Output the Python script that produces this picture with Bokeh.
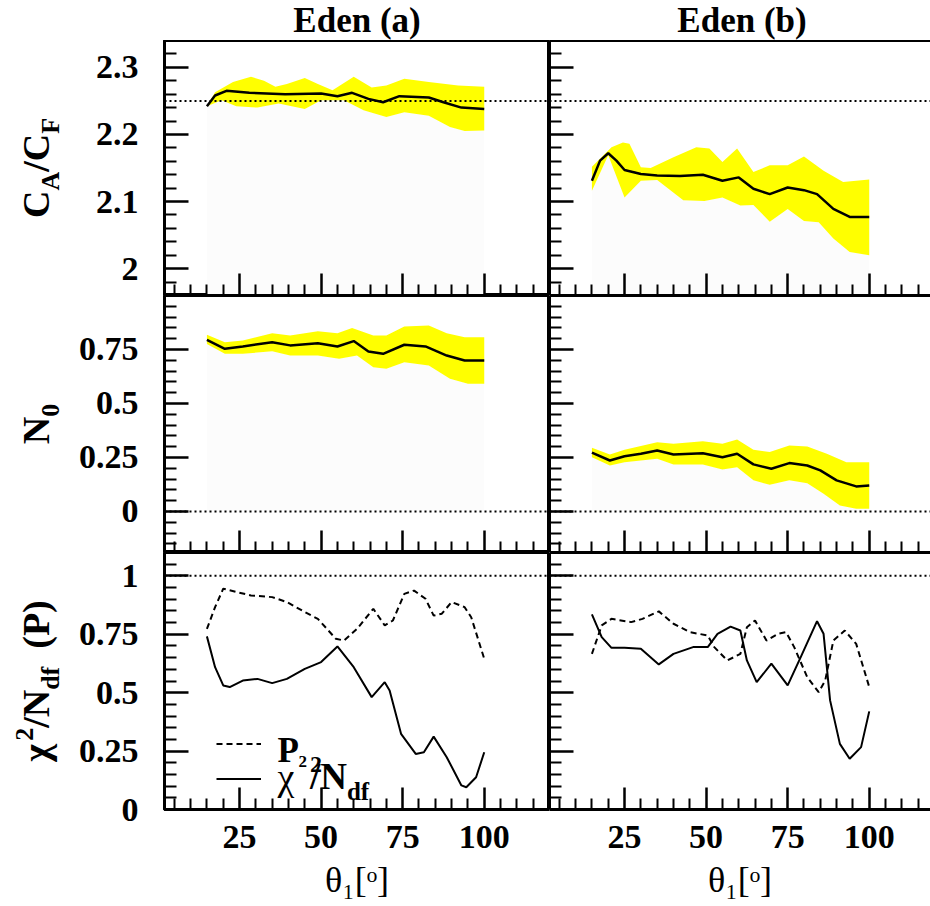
import math
from bokeh.plotting import figure
from bokeh.layouts import row, column
from bokeh.models import (FixedTicker, Span, Label, Legend, LegendItem,
                          LinearAxis, Range1d)
from bokeh.core.properties import value
from bokeh.embed import file_html
from bokeh.resources import INLINE

# ---------------------------------------------------------------- data
col_titles = ["Eden (a)", "Eden (b)"]
x_title = "θ₁[ᵒ]"

theta_ticks = [25, 50, 75, 100]
theta_tick_labels = ["25", "50", "75", "100"]
theta_minor = [5, 10, 15, 20, 30, 35, 40, 45, 55, 60, 65, 70, 80, 85, 90, 95,
               105, 110, 115]

cf_ticks = [2.0, 2.1, 2.2, 2.3]
cf_tick_labels = ["2", "2.1", "2.2", "2.3"]
cf_minor = [1.96, 1.98, 2.02, 2.04, 2.06, 2.08, 2.12, 2.14, 2.16, 2.18,
            2.22, 2.24, 2.26, 2.28, 2.32, 2.34]
cf_ref = 2.25

n0_ticks = [0, 0.25, 0.5, 0.75]
n0_tick_labels = ["0", "0.25", "0.5", "0.75"]
n0_minor = [-0.15, -0.1, -0.05, 0.05, 0.1, 0.15, 0.2, 0.3, 0.35, 0.4, 0.45,
            0.55, 0.6, 0.65, 0.7, 0.8, 0.85, 0.9, 0.95]
n0_ref = 0.0

chi_ticks = [0, 0.25, 0.5, 0.75, 1.0]
chi_tick_labels = ["0", "0.25", "0.5", "0.75", "1"]
chi_minor = [0.05, 0.1, 0.15, 0.2, 0.3, 0.35, 0.4, 0.45, 0.55, 0.6, 0.65,
             0.7, 0.8, 0.85, 0.9, 0.95, 1.05]
chi_ref = 1.0

# C_A/C_F, Eden (a)
cf_a_x = [15, 17.5, 21, 28, 39, 50, 55, 59.5, 64.5, 69, 74, 83, 87.5, 93, 100]
cf_a = [2.242, 2.258, 2.265, 2.262, 2.260, 2.261, 2.257, 2.262, 2.253, 2.248,
        2.257, 2.255, 2.248, 2.240, 2.238]
cf_a_up_x = [15, 17.5, 23, 28.5, 32.5, 36, 39.5, 45, 49, 53.5, 60, 65.5, 70,
             75.5, 83, 92, 100]
cf_a_up = [2.242, 2.263, 2.278, 2.286, 2.280, 2.271, 2.275, 2.284, 2.275,
           2.266, 2.286, 2.270, 2.273, 2.283, 2.278, 2.273, 2.271]
cf_a_lo_x = [15, 19.5, 24, 30.5, 37, 45, 50, 57, 63, 70, 75.5, 83, 89.5, 94, 100]
cf_a_lo = [2.242, 2.251, 2.242, 2.240, 2.246, 2.238, 2.251, 2.251, 2.236,
           2.226, 2.233, 2.228, 2.211, 2.205, 2.206]

# C_A/C_F, Eden (b)
cf_b_x = [15, 17.5, 20, 22.5, 25, 30, 35, 42, 49, 55, 60, 64.5, 69.5, 75, 80,
          84, 89, 94, 100]
cf_b = [2.131, 2.161, 2.172, 2.161, 2.147, 2.141, 2.139, 2.138, 2.140, 2.131,
        2.136, 2.119, 2.111, 2.121, 2.117, 2.111, 2.089, 2.077, 2.077]
cf_b_up_x = [15, 21, 24.5, 26.5, 30, 33, 40, 47, 51, 55, 59.5, 64.5, 69.5, 75,
             80, 86, 92, 100]
cf_b_up = [2.152, 2.181, 2.188, 2.186, 2.151, 2.150, 2.166, 2.181, 2.179,
           2.159, 2.179, 2.144, 2.154, 2.154, 2.167, 2.146, 2.129, 2.133]
cf_b_lo_x = [15, 20, 25, 30, 35, 43, 49.5, 55, 60.5, 64.5, 69.5, 75, 80, 84.5,
             89, 94, 100]
cf_b_lo = [2.116, 2.169, 2.106, 2.131, 2.132, 2.102, 2.101, 2.106, 2.094,
           2.095, 2.070, 2.089, 2.071, 2.069, 2.045, 2.025, 2.020]

# N0, Eden (a)
n0_a_x = [15, 20.5, 26, 35, 40.5, 49, 55, 60, 64.5, 69, 75.5, 82, 88.5, 94, 100]
n0_a = [0.795, 0.753, 0.764, 0.784, 0.769, 0.779, 0.764, 0.789, 0.741, 0.730,
        0.772, 0.764, 0.722, 0.699, 0.699]
n0_a_up_x = [15, 20.5, 26, 35, 40.5, 49, 55, 59.5, 66, 70, 75.5, 83, 88.5, 94, 100]
n0_a_up = [0.818, 0.784, 0.792, 0.825, 0.815, 0.835, 0.825, 0.850, 0.815,
           0.815, 0.856, 0.861, 0.825, 0.807, 0.807]
n0_a_lo_x = [15, 20.5, 26, 35, 40.5, 49, 55.5, 61, 66, 70, 75.5, 83, 89.5, 95, 100]
n0_a_lo = [0.776, 0.730, 0.730, 0.742, 0.722, 0.722, 0.707, 0.722, 0.668,
           0.661, 0.691, 0.676, 0.614, 0.591, 0.591]

# N0, Eden (b)
n0_b_x = [15, 20.5, 25, 30, 35, 40, 49, 55, 59.5, 64.5, 70, 75.5, 81, 85, 90,
          96, 100]
n0_b = [0.272, 0.236, 0.256, 0.267, 0.282, 0.264, 0.270, 0.251, 0.267, 0.218,
        0.198, 0.224, 0.213, 0.190, 0.144, 0.116, 0.120]
n0_b_up_x = [15, 20.5, 25, 35, 40, 49, 55, 59.5, 64.5, 69.5, 75.5, 81, 87, 93, 100]
n0_b_up = [0.295, 0.264, 0.286, 0.321, 0.313, 0.325, 0.313, 0.333, 0.286,
           0.275, 0.306, 0.301, 0.267, 0.228, 0.228]
n0_b_lo_x = [15, 20.5, 25, 35, 40, 49, 55, 59.5, 64.5, 69.5, 75.5, 81, 86, 91,
             96, 100]
n0_b_lo = [0.251, 0.213, 0.228, 0.244, 0.218, 0.218, 0.194, 0.205, 0.144,
           0.124, 0.144, 0.131, 0.082, 0.028, 0.012, 0.013]

# P2 and chi2/Ndf, Eden (a)
p2_a_x = [15, 17.5, 20, 28.5, 35, 39.5, 45, 49, 54.5, 57, 61, 66, 69.5, 72,
          75.5, 78.5, 82, 84.5, 87, 90, 94, 96, 100]
p2_a = [0.773, 0.866, 0.945, 0.916, 0.909, 0.888, 0.845, 0.816, 0.731, 0.723,
        0.773, 0.859, 0.788, 0.809, 0.923, 0.937, 0.902, 0.830, 0.838, 0.888,
        0.866, 0.823, 0.645]
chi_a_x = [15, 17.5, 20, 22, 26, 30.5, 35, 39.5, 45, 50, 55, 60, 65.5, 69.5,
           71, 74.5, 79, 81.5, 84.5, 88.5, 93, 94.5, 97.5, 100]
chi_a = [0.741, 0.609, 0.531, 0.524, 0.552, 0.559, 0.541, 0.559, 0.602, 0.631,
         0.698, 0.609, 0.481, 0.545, 0.509, 0.324, 0.238, 0.245, 0.312, 0.224,
         0.103, 0.095, 0.138, 0.245]

# P2 and chi2/Ndf, Eden (b)
p2_b_x = [15, 18, 21, 27, 30.5, 35.5, 40, 45, 50.5, 52.5, 56.5, 60.5, 62.5,
          65, 68.5, 72, 74.5, 77, 81, 84.5, 86.5, 89, 92.5, 96, 100]
p2_b = [0.666, 0.788, 0.816, 0.802, 0.816, 0.848, 0.795, 0.759, 0.745, 0.695,
        0.638, 0.666, 0.780, 0.809, 0.723, 0.752, 0.759, 0.695, 0.566, 0.502,
        0.552, 0.723, 0.766, 0.709, 0.524]
chi_b_x = [15, 18, 21, 25, 30, 35.5, 40, 46, 50.5, 53.5, 57.5, 60.5, 62.5,
           65.5, 70, 75, 79, 84, 86, 88, 91, 94, 97.5, 100]
chi_b = [0.835, 0.738, 0.692, 0.692, 0.688, 0.621, 0.666, 0.695, 0.695, 0.752,
         0.783, 0.766, 0.638, 0.545, 0.624, 0.531, 0.652, 0.806, 0.752, 0.467,
         0.281, 0.217, 0.267, 0.420]

# ---------------------------------------------------------------- layout
FONT = "Liberation Serif"
W_PAGE, H_PAGE = 930, 906
TXT_W = 74            # left text strip (y titles)
L0, MID, R0 = 164, 549, 930
TOPS = [40, 295, 552]
BOTS = [295, 552, 809]
TOP_TXT_H = 40
XR_L = (2.0, 120.0)
PXU = (MID - L0) / (XR_L[1] - XR_L[0])
XR_R = (2.0, 2.0 + (R0 - MID) / PXU)
Y_RANGES = [(1.96, 2.34), (-0.19, 1.0), (0.0, 1.1)]
BAND = "#ffff00"
TICK_FS = "34px"
BASE_K = 0.34         # empirical baseline correction of Label anchors

ADV = {'C': .722, 'A': .722, 'F': .611, 'N': .722, 'P': .611, '/': .278,
       'd': .556, 'f': .333, '(': .333, ')': .333, '0': .5, '1': .5, '2': .5,
       'E': .667, 'e': .444, 'n': .556, 'a': .5, 'b': .556, ' ': .25,
       'χ': .55, 'θ': .52, '[': .333, ']': .333, 'o': .5}


def adv(t, s):
    return sum(ADV.get(ch, 0.5) for ch in t) * s


class Frame:
    def __init__(self, L, R, T, B, xr, yr):
        self.L, self.R, self.T, self.B, self.xr, self.yr = L, R, T, B, xr, yr

    def data(self, px, py):
        x = self.xr[0] + (px - self.L) / (self.R - self.L) * (self.xr[1] - self.xr[0])
        y = self.yr[0] + (self.B - py) / (self.B - self.T) * (self.yr[1] - self.yr[0])
        return x, y


class PageFrame:
    def data(self, px, py):
        return px, py


def rich(p, fr, pieces, ax, ay, rotate=False, center=True):
    """pieces: (text, size_px, baseline_shift_px(+down), style, gap_before)"""
    total = sum(g + adv(t, s) for (t, s, sh, st, g) in pieces)
    pos = -total / 2 if center else 0.0
    for (t, s, sh, st, g) in pieces:
        pos += g
        corr = BASE_K * s
        if rotate:
            px, py = ax + sh - corr, ay - pos
        else:
            px, py = ax + pos, ay + sh - corr
        x, y = fr.data(px, py)
        p.add_layout(Label(x=x, y=y, text=t, angle=(math.pi / 2 if rotate else 0.0),
                           text_font=FONT, text_font_size=f"{s}px",
                           text_font_style=st, text_align="left",
                           text_baseline="alphabetic", text_color="black"))
        pos += adv(t, s)


def text_fig(w, h, xr, yr):
    f = figure(width=w, height=h, x_range=Range1d(*xr), y_range=Range1d(*yr),
               x_axis_type=None, y_axis_type=None, output_backend="svg",
               toolbar_location=None, tools="", min_border_left=0,
               min_border_right=0, min_border_top=0, min_border_bottom=0)
    f.outline_line_color = None
    f.grid.visible = False
    f.background_fill_color = "white"
    f.border_fill_color = "white"
    return f


def style_axis(ax, tin, tmin, show, standoff, ticks=None):
    ax.axis_line_width = 3
    ax.axis_line_color = "black"
    ax.major_tick_line_width = 2.5
    ax.minor_tick_line_width = 2
    ax.major_tick_line_color = "black"
    ax.minor_tick_line_color = "black"
    ax.major_tick_in = tin
    ax.major_tick_out = 0
    ax.minor_tick_in = tmin
    ax.minor_tick_out = 0
    ax.major_label_text_font = FONT
    ax.major_label_text_font_style = "bold"
    ax.major_label_text_color = "black"
    ax.axis_label = None
    if show:
        ax.major_label_text_font_size = TICK_FS
        ax.major_label_standoff = standoff
    else:
        ax.major_label_text_font_size = "0px"
        ax.major_label_standoff = 0
        if ticks:
            ax.major_label_overrides = {t: "" for t in ticks}


def make_panel(ci, ri, yticks, ylabels, yminor, ref):
    left = ci == 0
    L = L0 if left else MID
    R = MID if left else R0
    T, B = TOPS[ri], BOTS[ri]
    xr = XR_L if left else XR_R
    yr = Y_RANGES[ri]
    bl = (L0 - TXT_W) if left else 0
    bt = (TOPS[0] - TOP_TXT_H) if ri == 0 else 0
    bb = (H_PAGE - BOTS[2]) if ri == 2 else 0
    p = figure(width=(R - L) + bl, height=(B - T) + bt + bb,
               x_range=Range1d(*xr), y_range=Range1d(*yr),
               output_backend="svg", toolbar_location=None, tools="",
               min_border_left=bl, min_border_right=0,
               min_border_top=bt, min_border_bottom=bb)
    p.grid.visible = False
    p.background_fill_color = "white"
    p.border_fill_color = "white"
    p.outline_line_color = "black" if left else None
    p.outline_line_width = 3

    xa = p.xaxis[0]
    xa.ticker = FixedTicker(ticks=theta_ticks, minor_ticks=theta_minor)
    if ri == 2:
        xa.major_label_overrides = dict(zip(theta_ticks, theta_tick_labels))
    style_axis(xa, 22, 11, ri == 2, 16, theta_ticks)
    if ri == 2:
        xa.axis_label = x_title
        xa.axis_label_text_font = FONT
        xa.axis_label_text_font_style = "normal"
        xa.axis_label_text_font_size = "36px"
        xa.axis_label_text_color = "black"
        xa.axis_label_standoff = 9
    ya = p.yaxis[0]
    ya.ticker = FixedTicker(ticks=yticks, minor_ticks=yminor)
    if left:
        ya.major_label_overrides = dict(zip(yticks, ylabels))
    style_axis(ya, 24, 12, left, 26, yticks)

    if not left:
        top_ax = LinearAxis(ticker=FixedTicker(ticks=[]))
        style_axis(top_ax, 0, 0, False, 0)
        p.add_layout(top_ax, "above")

    p.add_layout(Span(location=ref, dimension="width", line_color="black",
                      line_width=2, line_dash="2 3"))
    return p, Frame(L, R, T, B, xr, yr)


def band_panel(p, xc, yc, xu, yu, xl, yl, base):
    p.patch(x=[xl[0]] + xl + [xl[-1]], y=[base] + yl + [base],
            fill_color="#fcfcfc", line_color=None)
    p.patch(x=xu + xl[::-1], y=yu + yl[::-1], fill_color=BAND, line_color=None)
    p.line(xc, yc, line_color="black", line_width=2.5)


# ---------------------------------------------------------------- panels
p11, f11 = make_panel(0, 0, cf_ticks, cf_tick_labels, cf_minor, cf_ref)
p12, f12 = make_panel(1, 0, cf_ticks, cf_tick_labels, cf_minor, cf_ref)
p21, f21 = make_panel(0, 1, n0_ticks, n0_tick_labels, n0_minor, n0_ref)
p22, f22 = make_panel(1, 1, n0_ticks, n0_tick_labels, n0_minor, n0_ref)
p31, f31 = make_panel(0, 2, chi_ticks, chi_tick_labels, chi_minor, chi_ref)
p32, f32 = make_panel(1, 2, chi_ticks, chi_tick_labels, chi_minor, chi_ref)

band_panel(p11, cf_a_x, cf_a, cf_a_up_x, cf_a_up, cf_a_lo_x, cf_a_lo, Y_RANGES[0][0])
band_panel(p12, cf_b_x, cf_b, cf_b_up_x, cf_b_up, cf_b_lo_x, cf_b_lo, Y_RANGES[0][0])
band_panel(p21, n0_a_x, n0_a, n0_a_up_x, n0_a_up, n0_a_lo_x, n0_a_lo, n0_ref)
band_panel(p22, n0_b_x, n0_b, n0_b_up_x, n0_b_up, n0_b_lo_x, n0_b_lo, n0_ref)

r_p2a = p31.line(p2_a_x, p2_a, line_color="black", line_width=2, line_dash="6 4")
r_chia = p31.line(chi_a_x, chi_a, line_color="black", line_width=2)
p32.line(p2_b_x, p2_b, line_color="black", line_width=2, line_dash="6 4")
p32.line(chi_b_x, chi_b, line_color="black", line_width=2)

# legend keys (their texts are drawn as rich labels below)
leg = Legend(items=[LegendItem(label=value(" "), renderers=[r_p2a]),
                    LegendItem(label=value(" "), renderers=[r_chia])],
             location=(52, 13), glyph_width=45, glyph_height=35,
             label_height=35, label_width=1, label_standoff=0,
             label_text_font_size="1px", padding=0, margin=0, spacing=0,
             border_line_color=None, background_fill_alpha=0)
p31.add_layout(leg)

rich(p31, f31, [("P", 35, 0, "bold", 0), ("2", 24, 10, "bold", 11)],
     277, 762, center=False)
rich(p31, f31, [("χ", 38, 0, "normal", 0), ("2", 17, -22, "bold", 0),
                ("/N", 37, 0, "bold", 3), ("df", 25, 10, "bold", 0)],
     277, 789, center=False)

# ---------------------------------------------------------------- text strips
page = PageFrame()
left_txt = text_fig(TXT_W, H_PAGE, (0, TXT_W), (H_PAGE, 0))
top_txt = text_fig(W_PAGE - TXT_W, TOP_TXT_H, (TXT_W, W_PAGE), (TOP_TXT_H, 0))

TS, SS = 38, 26
rich(top_txt, page, [(col_titles[0], 35, 0, "bold", 0)], (L0 + MID) / 2, 31.8)
rich(top_txt, page, [(col_titles[1], 35, 0, "bold", 0)], MID + (MID - L0) / 2, 31.8)

YB = 48
rich(left_txt, page, [("C", TS, 0, "bold", 0), ("A", SS, 11, "bold", 0),
                      ("/", TS, 0, "bold", 0), ("C", TS, 0, "bold", 0),
                      ("F", SS, 11, "bold", 0)],
     YB, (TOPS[0] + BOTS[0]) / 2, rotate=True)
rich(left_txt, page, [("N", TS, 0, "bold", 0), ("0", SS, 11, "bold", 0)],
     YB, (TOPS[1] + BOTS[1]) / 2, rotate=True)
rich(left_txt, page, [("χ", TS, 0, "bold", 0), ("2", SS, -15, "bold", 0),
                      ("/N", TS, 0, "bold", 0), ("df", SS, 11, "bold", 0),
                      ("(P)", TS, 0, "bold", 18)],
     YB, (TOPS[2] + BOTS[2]) / 2, rotate=True)

layout = row(left_txt,
             column(top_txt, row(p11, p12), row(p21, p22), row(p31, p32)))

open("out.html", "w").write(file_html(layout, INLINE))
